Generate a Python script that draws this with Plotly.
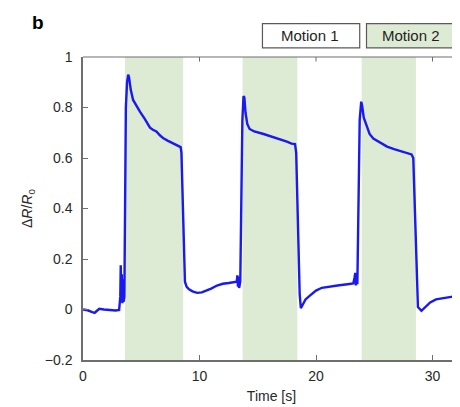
import plotly.graph_objects as go

# ---- data ----
time_s = [0, 0.4, 0.8, 1.0, 1.2, 1.4, 1.8, 2.3, 2.8, 3.1, 3.2, 3.24, 3.28, 3.33, 3.38, 3.43, 3.48,
          3.55, 3.62, 3.68, 3.78, 3.88, 3.95, 4.1, 4.3, 4.6, 4.9, 5.3, 5.75, 6.0, 6.3, 6.6, 6.9,
          7.3, 7.75, 8.1, 8.38, 8.45, 8.55, 8.65, 8.75, 8.9, 9.1, 9.4, 9.8, 10.2, 10.6, 11.0,
          11.5, 12.0, 12.5, 13.0, 13.2, 13.25, 13.3, 13.35, 13.4, 13.5, 13.6, 13.68, 13.78,
          13.85, 13.95, 14.1, 14.3, 14.7, 15.5, 16.2, 16.9, 17.5, 17.9, 18.2, 18.3, 18.4, 18.5,
          18.6, 18.7, 18.8, 19.1, 19.5, 20.0, 20.5, 21.2, 22.0, 22.7, 23.2, 23.3, 23.37, 23.42,
          23.48, 23.55, 23.65, 23.75, 23.88, 23.95, 24.1, 24.35, 24.6, 24.92, 25.5, 26.1, 26.7,
          27.2, 27.8, 28.2, 28.35, 28.45, 28.6, 28.75, 29.05, 29.4, 29.8, 30.3, 30.9, 31.6, 32.4]
dR_R0 = [0.0, -0.003, -0.01, -0.013, -0.005, 0.003, 0.0, -0.003, -0.004, -0.002, 0.05, 0.175,
         0.03, 0.14, 0.025, 0.12, 0.03, 0.05, 0.5, 0.8, 0.9, 0.93, 0.92, 0.87, 0.83, 0.805,
         0.783, 0.755, 0.72, 0.712, 0.705, 0.69, 0.678, 0.668, 0.657, 0.648, 0.643, 0.62, 0.45,
         0.22, 0.11, 0.09, 0.08, 0.072, 0.066, 0.068, 0.075, 0.083, 0.095, 0.102, 0.105, 0.108,
         0.11, 0.135, 0.09, 0.13, 0.085, 0.11, 0.4, 0.75, 0.845, 0.84, 0.78, 0.735, 0.715,
         0.705, 0.695, 0.685, 0.675, 0.665, 0.657, 0.655, 0.62, 0.45, 0.2, 0.06, 0.005, 0.015,
         0.04, 0.056, 0.075, 0.086, 0.092, 0.096, 0.1, 0.103, 0.125, 0.145, 0.095, 0.13, 0.1,
         0.45, 0.75, 0.823, 0.81, 0.76, 0.724, 0.695, 0.677, 0.66, 0.645, 0.635, 0.627, 0.62,
         0.614, 0.6, 0.45, 0.15, 0.01, -0.005, 0.01, 0.028, 0.04, 0.046, 0.05, 0.053]

motion2_start = [3.6, 13.7, 23.92]
motion2_end = [8.6, 18.4, 28.58]
legend_labels = ["Motion 1", "Motion 2"]
x_ticks = [0, 10, 20, 30]
y_ticks = [-0.2, 0, 0.2, 0.4, 0.6, 0.8, 1]
y_tick_text = ["\u22120.2", "0", "0.2", "0.4", "0.6", "0.8", "1"]

BAND = "rgb(222,235,212)"
AXC = "rgb(110,110,110)"
FONT = "Liberation Sans, Arial, sans-serif"

fig = go.Figure()
fig.add_trace(go.Scatter(x=time_s, y=dR_R0, mode="lines",
                         line=dict(color="rgb(25,25,240)", width=2.4),
                         showlegend=False, hoverinfo="skip"))

shapes = []
for s, e in zip(motion2_start, motion2_end):
    shapes.append(dict(type="rect", xref="x", yref="paper", x0=s, x1=e, y0=0, y1=1,
                       fillcolor=BAND, line=dict(width=0), layer="below"))
# top border of axes box
shapes.append(dict(type="line", xref="paper", yref="paper", x0=0, x1=1.05, y0=1, y1=1,
                   line=dict(color=AXC, width=1.2)))
# legend boxes
shapes.append(dict(type="rect", xref="paper", yref="paper", x0=0.476, x1=0.734,
                   y0=1.03, y1=1.11, fillcolor="white", line=dict(color="rgb(90,90,90)", width=1.2)))
shapes.append(dict(type="rect", xref="paper", yref="paper", x0=0.752, x1=1.06,
                   y0=1.03, y1=1.11, fillcolor=BAND, line=dict(color="rgb(90,90,90)", width=1.2)))
# top inside ticks
for xt in x_ticks[1:]:
    shapes.append(dict(type="line", xref="x", yref="paper", x0=xt, x1=xt, y0=1, y1=0.985,
                       line=dict(color=AXC, width=1)))

annotations = [
    dict(text=legend_labels[0], xref="paper", yref="paper", x=0.603, y=1.07, showarrow=False,
         xanchor="center", yanchor="middle",
         font=dict(size=15, color="rgb(30,30,30)", family=FONT)),
    dict(text=legend_labels[1], xref="paper", yref="paper", x=0.870, y=1.07, showarrow=False,
         xanchor="center", yanchor="middle",
         font=dict(size=15, color="rgb(30,30,30)", family=FONT)),
    dict(text="<b>b</b>", xref="paper", yref="paper", x=-0.12, y=1.115, showarrow=False,
         xanchor="center", yanchor="middle",
         font=dict(size=19, color="black", family=FONT)),
    dict(text="\u0394<i>R</i>/<i>R</i><sub>0</sub>", xref="paper", yref="paper",
         x=-0.147, y=0.5, showarrow=False, textangle=-90, xanchor="center", yanchor="middle",
         font=dict(size=14, color="rgb(40,40,40)", family=FONT)),
]

# the page body has an 8px margin, so the figure is 8px smaller and offset
fig.update_layout(
    width=452, height=399,
    margin=dict(l=75, r=0, t=49, b=47),
    paper_bgcolor="white", plot_bgcolor="white",
    font=dict(family=FONT, size=14, color="rgb(40,40,40)"),
    shapes=shapes, annotations=annotations,
    xaxis=dict(range=[0, 32.36], tickvals=x_ticks, ticks="inside", ticklen=5,
               tickcolor=AXC, showline=True, linecolor=AXC, linewidth=1.5,
               showgrid=False, zeroline=False, ticklabelstandoff=2,
               title=dict(text="Time [s]", standoff=9, font=dict(size=14))),
    yaxis=dict(range=[-0.2, 1], tickvals=y_ticks, ticktext=y_tick_text, ticks="inside",
               ticklen=5, tickcolor=AXC, showline=True, linecolor=AXC, linewidth=1.5,
               showgrid=False, zeroline=False, ticklabelstandoff=6),
)

fig.write_html("out.html")
